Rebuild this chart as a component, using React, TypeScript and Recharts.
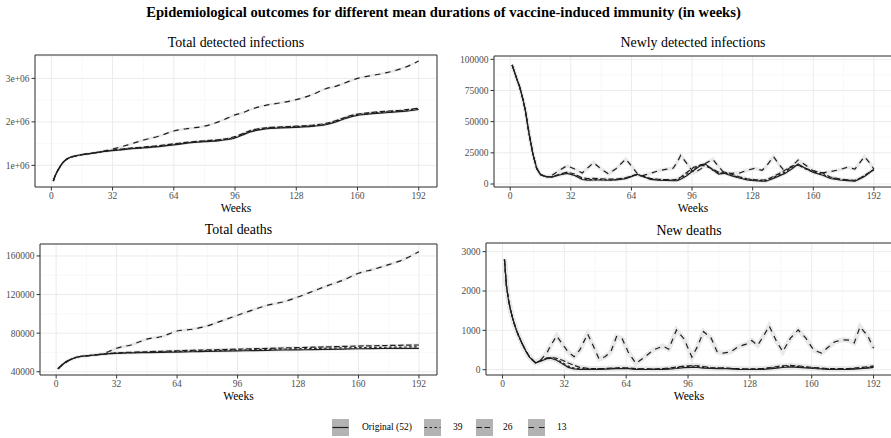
import React from "react";
import {
  CartesianGrid,
  Line,
  LineChart,
  ReferenceArea,
  XAxis,
  YAxis,
} from "recharts";

// shared week axis
const weekTicks = [0, 32, 64, 96, 128, 160, 192];
const weekMinor = [16, 48, 80, 112, 144, 176];
const weekDomain: [number, number] = [-8.55, 201.55];

// Total detected infections
const totInfWeeks = [1, 2, 4, 6, 8, 10, 12, 16, 20, 24, 28, 32, 40, 48, 56, 64, 72, 80, 88, 96, 100, 104, 108, 112, 120, 128, 136, 144, 148, 152, 156, 160, 164, 168, 176, 184, 192];
const totInfOrig = [640000, 760000, 930000, 1060000, 1140000, 1185000, 1210000, 1245000, 1270000, 1295000, 1320000, 1340000, 1375000, 1400000, 1430000, 1470000, 1515000, 1545000, 1570000, 1630000, 1700000, 1770000, 1810000, 1840000, 1860000, 1875000, 1895000, 1940000, 1990000, 2050000, 2110000, 2150000, 2170000, 2190000, 2215000, 2240000, 2285000];
const totInf39 = [640000, 760000, 930000, 1060000, 1140000, 1185000, 1210000, 1245000, 1270000, 1296000, 1322000, 1345000, 1382000, 1410000, 1440000, 1482000, 1525000, 1555000, 1582000, 1645000, 1715000, 1785000, 1825000, 1852000, 1872000, 1888000, 1908000, 1955000, 2005000, 2065000, 2125000, 2165000, 2185000, 2205000, 2232000, 2258000, 2305000];
const totInf26 = [640000, 760000, 930000, 1060000, 1140000, 1185000, 1210000, 1245000, 1271000, 1298000, 1325000, 1350000, 1390000, 1420000, 1452000, 1495000, 1535000, 1565000, 1595000, 1660000, 1730000, 1800000, 1840000, 1865000, 1885000, 1900000, 1922000, 1970000, 2020000, 2080000, 2140000, 2180000, 2200000, 2220000, 2248000, 2272000, 2315000];
const totInf13 = [640000, 760000, 930000, 1060000, 1140000, 1185000, 1210000, 1245000, 1272000, 1300000, 1335000, 1375000, 1470000, 1580000, 1670000, 1790000, 1850000, 1900000, 2010000, 2160000, 2210000, 2280000, 2340000, 2380000, 2440000, 2510000, 2620000, 2770000, 2810000, 2870000, 2940000, 3000000, 3040000, 3070000, 3140000, 3240000, 3400000];

// Newly detected infections
const newInfWeeks = [1, 2, 3, 4, 5, 6, 7, 8, 10, 12, 14, 16, 19, 22, 26, 30, 34, 38, 41, 44, 48, 52, 56, 61, 65, 67, 69, 74, 78, 82, 86, 88, 90, 93, 97, 101, 103, 107, 110, 113, 117, 121, 125, 129, 133, 135, 139, 142, 145, 149, 152, 156, 160, 165, 169, 174, 178, 182, 185, 187, 190, 192];
const newInfOrig = [95500, 91000, 86500, 82000, 78000, 72000, 66000, 59000, 40000, 24000, 12500, 7500, 5800, 5600, 7200, 8500, 6800, 3600, 3100, 3200, 3200, 3000, 3300, 4300, 6500, 7800, 6800, 3700, 3100, 2900, 2600, 2700, 3800, 6500, 11000, 15500, 16000, 11500, 8000, 8600, 6500, 4800, 3300, 2700, 2300, 2200, 4500, 6500, 8500, 12500, 16000, 12500, 9300, 7000, 4400, 3200, 2700, 2300, 4400, 6000, 9500, 11800];
const newInf39 = [95500, 91000, 86500, 82000, 78000, 72000, 66000, 59000, 40000, 24000, 12500, 7500, 5800, 5700, 7400, 8800, 7200, 4000, 3500, 3600, 3500, 3300, 3600, 4600, 6800, 7600, 6600, 4000, 3400, 3200, 3000, 3200, 4500, 7500, 12000, 16000, 15500, 11000, 8500, 9000, 7000, 5200, 3700, 3100, 2700, 2800, 5200, 7300, 9500, 13500, 15500, 12000, 9800, 7800, 5000, 3700, 3100, 2700, 4800, 6500, 9800, 11500];
const newInf26 = [95500, 91000, 86500, 82000, 78000, 72000, 66000, 59000, 40000, 24000, 12500, 7500, 5800, 5900, 7800, 9500, 8000, 4800, 4400, 4500, 4200, 3900, 4000, 5000, 7000, 7300, 6500, 4500, 3800, 3500, 3400, 3800, 5500, 9000, 13500, 15000, 14500, 12000, 9500, 9600, 7800, 5800, 4200, 3500, 3200, 3300, 6000, 8500, 11000, 14500, 15000, 12500, 10500, 8800, 5600, 4000, 3400, 3000, 5000, 6800, 9800, 11200];
const newInf13 = [95500, 91000, 86500, 82000, 78000, 72000, 66000, 59000, 40000, 24000, 12500, 7500, 5900, 6800, 11000, 14700, 12000, 8800, 13000, 17100, 12000, 8000, 12500, 20000, 12500, 8500, 6400, 8500, 10500, 11800, 12600, 17000, 23000, 17000, 8800, 12500, 16500, 19800, 14000, 8800, 8600, 8800, 11000, 12500, 11000, 14000, 21900, 15500, 9900, 14500, 19300, 15000, 10500, 9000, 9900, 11500, 13400, 12000, 18000, 21900, 16500, 11800];

// Total deaths
const totDeathWeeks = [1, 2, 4, 6, 8, 10, 12, 16, 20, 24, 28, 32, 40, 48, 56, 64, 72, 80, 88, 96, 104, 112, 120, 128, 136, 144, 152, 160, 168, 176, 184, 192];
const totDeathOrig = [43000, 45000, 48500, 51000, 53000, 54500, 55500, 56500, 57300, 58000, 58700, 59100, 59500, 59800, 60100, 60400, 60700, 61000, 61300, 61600, 61900, 62200, 62500, 62700, 62900, 63200, 63500, 63800, 64000, 64100, 64200, 64300];
const totDeath39 = [43000, 45000, 48500, 51000, 53000, 54500, 55500, 56500, 57300, 58000, 58800, 59300, 59800, 60200, 60600, 61000, 61400, 61800, 62100, 62500, 62900, 63200, 63500, 63800, 64100, 64400, 64700, 65000, 65200, 65400, 65600, 65800];
const totDeath26 = [43000, 45000, 48500, 51000, 53000, 54500, 55500, 56500, 57300, 58100, 58900, 59500, 60200, 60700, 61200, 61700, 62200, 62600, 63000, 63400, 63800, 64200, 64600, 65000, 65400, 65800, 66200, 66600, 66900, 67200, 67500, 67700];
const totDeath13 = [43000, 45000, 48500, 51000, 53000, 54500, 55500, 56500, 57300, 58200, 61000, 64300, 68000, 73800, 76500, 82200, 84000, 87500, 93000, 98500, 104000, 109000, 112300, 117500, 123500, 129500, 135000, 142100, 146200, 151000, 156500, 164500];

// New deaths
const newDeathWeeks = [1, 2, 3, 4, 5, 6, 7, 8, 10, 12, 14, 17, 20, 23, 25, 28, 31, 34, 37, 40, 44, 47, 50, 53, 56, 59, 62, 65, 69, 73, 78, 83, 86, 90, 94, 98, 101, 104, 108, 111, 114, 118, 122, 126, 129, 132, 135, 138, 142, 145, 149, 153, 157, 161, 165, 168, 172, 176, 179, 182, 185, 189, 192];
const newDeathOrig = [2800, 2150, 1800, 1550, 1350, 1180, 1030, 900, 680, 480, 320, 170, 220, 280, 290, 240, 150, 60, 20, 10, 10, 5, 10, 15, 20, 25, 30, 25, 10, 5, 5, 10, 15, 30, 50, 60, 55, 40, 30, 25, 30, 20, 10, 5, 5, 5, 10, 20, 40, 55, 70, 60, 45, 30, 20, 10, 5, 5, 10, 15, 25, 40, 60];
const newDeath39 = [2800, 2150, 1800, 1550, 1350, 1180, 1030, 900, 680, 480, 320, 175, 230, 290, 300, 260, 180, 90, 40, 25, 20, 15, 20, 25, 30, 35, 40, 35, 20, 15, 15, 20, 30, 50, 75, 90, 80, 60, 45, 40, 40, 30, 20, 15, 15, 15, 25, 35, 60, 80, 90, 80, 60, 45, 30, 20, 15, 15, 20, 30, 40, 55, 80];
const newDeath26 = [2800, 2150, 1800, 1550, 1350, 1180, 1030, 900, 680, 480, 320, 180, 240, 300, 310, 290, 240, 170, 110, 60, 35, 25, 25, 30, 40, 45, 50, 45, 30, 20, 20, 25, 40, 65, 90, 105, 100, 80, 55, 45, 45, 35, 25, 20, 20, 25, 35, 50, 80, 100, 110, 95, 75, 55, 40, 30, 25, 25, 30, 40, 55, 70, 95];
const newDeath13 = [2800, 2150, 1800, 1550, 1350, 1180, 1030, 900, 680, 480, 320, 180, 260, 430, 620, 860, 650, 450, 330, 500, 910, 600, 270, 330, 450, 840, 780, 450, 160, 300, 500, 600, 520, 1010, 780, 320, 600, 970, 800, 460, 420, 450, 585, 650, 740, 620, 850, 1110, 700, 460, 800, 1010, 800, 500, 420, 550, 710, 760, 750, 680, 1090, 860, 545];

const legendLabels = ["Original (52)", "39", "26", "13"];

type Key = "orig" | "w39" | "w26" | "w13";
interface Row {
  week: number;
  orig: number;
  w39: number;
  w26: number;
  w13: number;
}

// back to front, so the original scenario sits on top
const drawOrder: Key[] = ["w13", "w26", "w39", "orig"];
const legendKeys: Key[] = ["orig", "w39", "w26", "w13"];
const dashes: Record<Key, string | undefined> = {
  orig: undefined,
  w39: "2.5 2.5",
  w26: "5.5 2.5",
  w13: "5.5 5",
};

const LINE = "#1f1f1f";
const BAND = "#e9e9e9";
const FONT = "'Liberation Serif', 'DejaVu Serif', serif";
const tickStyle = { fill: "#4d4d4d", fontSize: 9.5, fontFamily: FONT };

const toRows = (weeks: number[], orig: number[], w39: number[], w26: number[], w13: number[]): Row[] =>
  weeks.map((week, i) => ({ week, orig: orig[i], w39: w39[i], w26: w26[i], w13: w13[i] }));

interface Box {
  x: number;
  y: number;
  w: number;
  h: number;
}

interface PanelProps {
  title: string;
  data: Row[];
  box: Box;
  yWidth: number;
  yDomain: [number, number];
  yTicks: number[];
  yMinor: number[];
  yFormat?: (v: number) => string;
  titleY: number;
  weeksY: number;
  curve: "linear" | "monotone";
  band: number;
}

const Panel: React.FC<PanelProps> = ({
  title,
  data,
  box,
  yWidth,
  yDomain,
  yTicks,
  yMinor,
  yFormat,
  titleY,
  weeksY,
  curve,
  band,
}) => {
  const mt = 4;
  const mr = 4;
  const xh = 22;
  return (
    <>
      <div
        style={{
          position: "absolute",
          left: box.x,
          width: box.w,
          top: titleY - 10,
          height: 20,
          lineHeight: "20px",
          textAlign: "center",
          fontSize: 13.9,
          color: "#000",
        }}
      >
        {title}
      </div>
      <div style={{ position: "absolute", left: box.x - yWidth, top: box.y - mt }}>
        <LineChart
          width={yWidth + box.w + mr}
          height={mt + box.h + xh}
          data={data}
          margin={{ top: mt, right: mr, bottom: 0, left: 0 }}
        >
          <CartesianGrid
            stroke="#f4f4f4"
            strokeWidth={0.6}
            horizontalValues={yMinor}
            verticalValues={weekMinor}
          />
          <CartesianGrid stroke="#ebebeb" strokeWidth={1} />
          <XAxis
            type="number"
            dataKey="week"
            domain={weekDomain}
            ticks={weekTicks}
            interval={0}
            allowDataOverflow
            height={xh}
            axisLine={false}
            tickSize={3.5}
            tickMargin={1.5}
            tickLine={{ stroke: "#333" }}
            tick={tickStyle}
          />
          <YAxis
            type="number"
            domain={yDomain}
            ticks={yTicks}
            interval={0}
            allowDataOverflow
            width={yWidth}
            axisLine={false}
            tickSize={3.5}
            tickMargin={2}
            tickLine={{ stroke: "#333" }}
            tick={tickStyle}
            tickFormatter={yFormat}
          />
          {drawOrder.map((k) => (
            <Line
              key={`band-${k}`}
              type={curve}
              dataKey={k}
              stroke={BAND}
              strokeWidth={band}
              dot={false}
              activeDot={false}
              isAnimationActive={false}
            />
          ))}
          {drawOrder.map((k) => (
            <Line
              key={k}
              type={curve}
              dataKey={k}
              stroke={LINE}
              strokeWidth={1.2}
              strokeDasharray={dashes[k]}
              dot={false}
              activeDot={false}
              isAnimationActive={false}
            />
          ))}
          <ReferenceArea
            x1={weekDomain[0]}
            x2={weekDomain[1]}
            y1={yDomain[0]}
            y2={yDomain[1]}
            fill="none"
            fillOpacity={0}
            stroke="#333"
            strokeWidth={1}
            ifOverflow="visible"
          />
        </LineChart>
      </div>
      <div
        style={{
          position: "absolute",
          left: box.x,
          width: box.w,
          top: weeksY - 8,
          height: 16,
          lineHeight: "16px",
          textAlign: "center",
          fontSize: 11.5,
          color: "#000",
        }}
      >
        Weeks
      </div>
    </>
  );
};

const legendPos = [
  { key: 332, text: 362 },
  { key: 424, text: 453 },
  { key: 476, text: 503 },
  { key: 528, text: 557 },
];

const Legend: React.FC = () => (
  <>
    {legendKeys.map((k, i) => (
      <React.Fragment key={k}>
        <svg
          width={17}
          height={17}
          style={{ position: "absolute", left: legendPos[i].key, top: 419 }}
        >
          <rect x={0} y={0} width={17} height={17} fill="#b3b3b3" />
          <line
            x1={0.5}
            x2={16.5}
            y1={8.5}
            y2={8.5}
            stroke={LINE}
            strokeWidth={1.2}
            strokeDasharray={dashes[k]}
          />
        </svg>
        <div
          style={{
            position: "absolute",
            left: legendPos[i].text,
            top: 419,
            height: 17,
            lineHeight: "17px",
            fontSize: 9.5,
            color: "#000",
            whiteSpace: "nowrap",
          }}
        >
          {legendLabels[i]}
        </div>
      </React.Fragment>
    ))}
  </>
);

const App: React.FC = () => {
  const totInf = toRows(totInfWeeks, totInfOrig, totInf39, totInf26, totInf13);
  const newInf = toRows(newInfWeeks, newInfOrig, newInf39, newInf26, newInf13);
  const totDeath = toRows(totDeathWeeks, totDeathOrig, totDeath39, totDeath26, totDeath13);
  const newDeath = toRows(newDeathWeeks, newDeathOrig, newDeath39, newDeath26, newDeath13);

  return (
    <div
      style={{
        position: "absolute",
        left: 0,
        top: 0,
        width: 891,
        height: 438,
        overflow: "hidden",
        background: "#fff",
        fontFamily: FONT,
      }}
    >
      <div
        style={{
          position: "absolute",
          left: 0,
          top: 2,
          width: 887,
          height: 21,
          lineHeight: "21px",
          textAlign: "center",
          fontWeight: "bold",
          fontSize: 14.6,
        }}
      >
        Epidemiological outcomes for different mean durations of vaccine-induced immunity (in weeks)
      </div>
      <Panel
        title="Total detected infections"
        data={totInf}
        box={{ x: 35, y: 55, w: 402, h: 132 }}
        yWidth={35}
        yDomain={[502000, 3538000]}
        yTicks={[1000000, 2000000, 3000000]}
        yMinor={[500000, 1500000, 2500000, 3500000]}
        yFormat={(v) => `${v / 1000000}e+06`}
        titleY={42.5}
        weeksY={208}
        curve="monotone"
        band={2.5}
      />
      <Panel
        title="Newly detected infections"
        data={newInf}
        box={{ x: 494, y: 56, w: 398, h: 131 }}
        yWidth={49}
        yDomain={[-2400, 102650]}
        yTicks={[0, 25000, 50000, 75000, 100000]}
        yMinor={[12500, 37500, 62500, 87500]}
        titleY={43}
        weeksY={208}
        curve="linear"
        band={3.5}
      />
      <Panel
        title="Total deaths"
        data={totDeath}
        box={{ x: 40, y: 244, w: 397, h: 131 }}
        yWidth={40}
        yDomain={[36600, 172400]}
        yTicks={[40000, 80000, 120000, 160000]}
        yMinor={[60000, 100000, 140000]}
        titleY={230}
        weeksY={396}
        curve="monotone"
        band={3}
      />
      <Panel
        title="New deaths"
        data={newDeath}
        box={{ x: 486, y: 243, w: 406, h: 132 }}
        yWidth={41}
        yDomain={[-135, 3220]}
        yTicks={[0, 1000, 2000, 3000]}
        yMinor={[500, 1500, 2500]}
        titleY={230.5}
        weeksY={396}
        curve="linear"
        band={5}
      />
      <Legend />
    </div>
  );
};

export default App;
